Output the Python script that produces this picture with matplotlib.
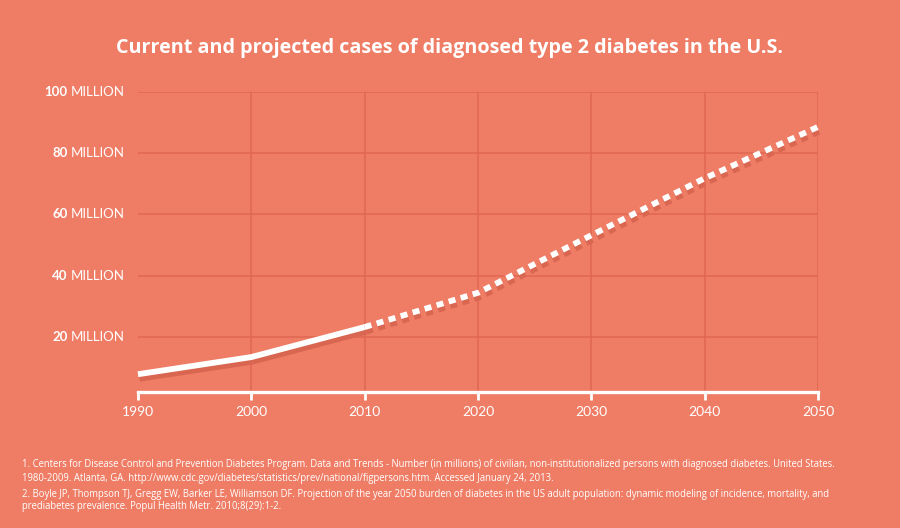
import matplotlib.pyplot as plt
import matplotlib.transforms as mtransforms

# data (millions of people)
years_actual = [1990, 2000, 2010]
cases_actual = [7.8, 13.4, 23.2]
years_proj = [2010, 2020, 2030, 2040, 2050]
cases_proj = [23.2, 34.4, 53.2, 71.8, 88.6]

x_ticks = [1990, 2000, 2010, 2020, 2030, 2040, 2050]
y_ticks = [20, 40, 60, 80, 100]
y_tick_numbers = ['20', '40', '60', '80', '100']

title = 'Current and projected cases of diagnosed type 2 diabetes in the U.S.'
notes = [
    '1. Centers for Disease Control and Prevention Diabetes Program. Data and Trends - Number (in millions) of civilian, non-institutionalized persons with diagnosed diabetes. United States.',
    '1980-2009. Atlanta, GA. http://www.cdc.gov/diabetes/statistics/prev/national/figpersons.htm. Accessed January 24, 2013.',
    '2. Boyle JP, Thompson TJ, Gregg EW, Barker LE, Williamson DF. Projection of the year 2050 burden of diabetes in the US adult population: dynamic modeling of incidence, mortality, and',
    'prediabetes prevalence. Popul Health Metr. 2010;8(29):1-2.',
]

bg = '#EF7D66'
grid_col = '#E06853'
shadow_col = '#D86650'

plt.rcParams['font.family'] = ['Lato', 'DejaVu Sans']

fig = plt.figure(figsize=(9, 5.28), dpi=100, facecolor=bg)
ax = fig.add_axes([0.1533, 0.2576, 0.7556, 0.5682])
ax.set_facecolor(bg)
ax.set_xlim(1990, 2050)
ax.set_ylim(2, 100)

# grid
for y in y_ticks:
    ax.axhline(y, color=grid_col, lw=1.1, zorder=1)
for x in x_ticks[1:]:
    ax.axvline(x, color=grid_col, lw=1.1, zorder=1)

# shadow lines, shifted a few pixels down-right
shadow = mtransforms.offset_copy(ax.transData, fig=fig, x=1.5, y=-4.5, units='dots')
ax.plot(years_actual, cases_actual, color=shadow_col, lw=4.2, transform=shadow,
        solid_capstyle='butt', zorder=2, clip_on=False)
ax.plot(years_proj, cases_proj, color=shadow_col, lw=4.2, transform=shadow,
        dashes=(1.2, 0.95), dash_capstyle='butt', zorder=2, clip_on=False)

ax.plot(years_actual, cases_actual, color='white', lw=4.2,
        solid_capstyle='butt', solid_joinstyle='round', zorder=3, clip_on=False)
ax.plot(years_proj, cases_proj, color='white', lw=4.2,
        dashes=(1.2, 0.95), dash_capstyle='butt', zorder=3, clip_on=False)

for s in ['top', 'right', 'left']:
    ax.spines[s].set_visible(False)
ax.spines['bottom'].set_color('white')
ax.spines['bottom'].set_linewidth(2.4)
ax.spines['bottom'].set_zorder(4)

ax.set_xticks(x_ticks)
ax.set_xticklabels([str(x) for x in x_ticks])
ax.tick_params(axis='x', colors='white', length=6, width=2, labelsize=10, pad=4)
ax.set_yticks([])

# y labels: bold number + regular "MILLION"
for y, num in zip(y_ticks, y_tick_numbers):
    m = ax.text(-0.019, y, 'MILLION', transform=ax.get_yaxis_transform(),
                ha='right', va='center', color='white', fontsize=9.5)
    ax.annotate(num, xy=(0, 0.5), xycoords=m, xytext=(-2.5, 0), textcoords='offset points',
                ha='right', va='center', color='white', fontsize=9.5, fontweight='bold')

fig.text(0.5, 0.909, title, ha='center', va='center', color='white',
         fontsize=14.2, fontweight='bold', family=['Open Sans', 'DejaVu Sans'])

note_y = [465, 478, 494, 507]
for txt, py in zip(notes, note_y):
    fig.text(22 / 900, 1 - py / 528, txt, ha='left', va='center', color='white',
             fontsize=6.88, family=['Open Sans', 'DejaVu Sans'])

fig.savefig('out.png', dpi=100, facecolor=bg)
